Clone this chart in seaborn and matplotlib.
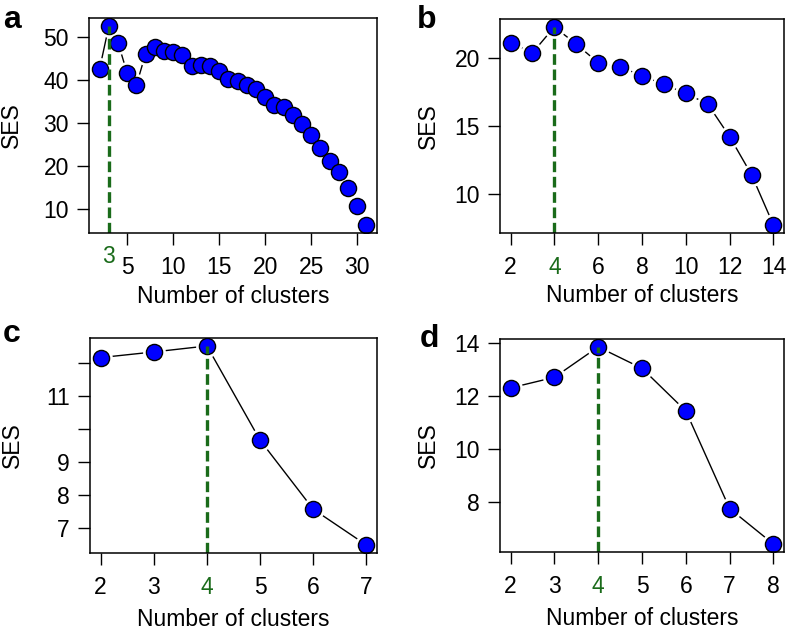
import matplotlib
matplotlib.use("Agg")
import matplotlib.pyplot as plt
import matplotlib.transforms as mtransforms
import seaborn as sns
import pandas as pd

### data
k_a = list(range(2, 32))
ses_a = [42.6, 52.5, 48.6, 41.5, 38.8, 46.1, 47.6, 46.6, 46.5, 45.7,
         43.2, 43.4, 43.2, 42.0, 40.3, 39.7, 38.9, 37.9, 35.9, 34.2,
         33.7, 31.8, 29.8, 27.1, 24.1, 21.2, 18.7, 15.0, 10.7, 6.3]
k_b = list(range(2, 15))
ses_b = [21.12, 20.36, 22.26, 21.0, 19.64, 19.34, 18.69, 18.05, 17.4,
         16.62, 14.23, 11.44, 7.76]
k_c = [2, 3, 4, 5, 6, 7]
ses_c = [12.15, 12.32, 12.5, 9.66, 7.58, 6.5]
k_d = [2, 3, 4, 5, 6, 7, 8]
ses_d = [12.31, 12.71, 13.86, 13.05, 11.44, 7.75, 6.41]

best = {"a": 3, "b": 4, "c": 4, "d": 4}
xticks = {"a": [5, 10, 15, 20, 25, 30], "b": [2, 4, 6, 8, 10, 12, 14],
          "c": [2, 3, 4, 5, 6, 7], "d": [2, 3, 4, 5, 6, 7, 8]}
yticks = {"a": [10, 20, 30, 40, 50], "b": [10, 15, 20],
          "c": [7, 8, 9, 10, 11, 12], "d": [8, 10, 12, 14]}
ytick_labels = {"a": ["10", "20", "30", "40", "50"], "b": ["10", "15", "20"],
                "c": ["7", "8", "9", "", "11", ""], "d": ["8", "10", "12", "14"]}

sns.set_style("ticks")
plt.rcParams["font.family"] = ["Liberation Sans", "DejaVu Sans"]
plt.rcParams["text.color"] = "black"
plt.rcParams["axes.labelcolor"] = "black"
plt.rcParams["xtick.labelcolor"] = "black"
plt.rcParams["ytick.labelcolor"] = "black"
FS = 16.5
GREEN = "#1a6b1a"

fig = plt.figure(figsize=(7.88, 6.33), dpi=100)
W, H = 788.0, 633.0
boxes = {"a": (89, 18, 377, 233), "b": (500, 19, 784, 233),
         "c": (90, 338, 377, 553), "d": (500, 339, 784, 552)}
letters = {"a": (3, 28), "b": (417, 28), "c": (3, 342), "d": (420, 347)}
series = {"a": (k_a, ses_a), "b": (k_b, ses_b), "c": (k_c, ses_c), "d": (k_d, ses_d)}

for key in "abcd":
    l, t, r, b = boxes[key]
    ax = fig.add_axes([l / W, 1 - b / H, (r - l) / W, (b - t) / H])
    xs, ys = series[key]
    df = pd.DataFrame({"k": xs, "ses": ys})

    # R-style 4% padding
    xpad = 0.04 * (max(xs) - min(xs))
    ypad = 0.04 * (max(ys) - min(ys))
    ax.set_xlim(min(xs) - xpad, max(xs) + xpad)
    ax.set_ylim(min(ys) - ypad, max(ys) + ypad)

    # type="b": line with gaps round the points
    sns.lineplot(data=df, x="k", y="ses", color="black", lw=1.0, ax=ax, zorder=1)
    sns.scatterplot(data=df, x="k", y="ses", color="white", s=270, linewidth=0,
                    ax=ax, zorder=2)
    sns.scatterplot(data=df, x="k", y="ses", color="#0000ff", edgecolor="black",
                    s=135, linewidth=1.0, ax=ax, zorder=3)

    kb = best[key]
    ax.vlines(kb, min(ys) - ypad, ys[xs.index(kb)], color=GREEN, lw=2.4,
              linestyles=(0, (3.2, 1.4)), zorder=4)

    ax.tick_params(axis="both", direction="out", length=8.5, width=1.0,
                   labelsize=FS, color="black", labelcolor="black")
    ax.tick_params(axis="x", pad=8)
    ax.tick_params(axis="y", pad=6)

    ax.set_xticks(xticks[key])
    ax.set_xticklabels([str(v) for v in xticks[key]])
    ax.set_yticks(yticks[key])
    ax.set_yticklabels(ytick_labels[key])
    for lab, v in zip(ax.get_xticklabels(), xticks[key]):
        lab.set_color(GREEN if v == kb else "black")
    for lab in ax.get_yticklabels():
        lab.set_color("black")
    if key == "a":
        trans = mtransforms.blended_transform_factory(ax.transData, ax.transAxes)
        ax.text(kb, -0.055, str(kb), color=GREEN, ha="center", va="top",
                fontsize=FS, transform=trans)

    for s in ax.spines.values():
        s.set_visible(True)
        s.set_linewidth(1.1)
        s.set_color("black")
        s.set_zorder(5)

    ax.set_xlabel("Number of clusters", fontsize=FS, color="black")
    ax.set_ylabel("SES", fontsize=FS, color="black")
    yl_px = 66.5 if key in "ac" else 60.5
    ax.yaxis.set_label_coords(-yl_px / (r - l), 0.5)
    xl = -0.24 if key in "ab" else -0.258
    ax.xaxis.set_label_coords(0.5, xl)

    lx, ly = letters[key]
    fig.text(lx / W, 1 - ly / H, key, fontsize=23, fontweight="bold",
             ha="left", va="baseline", color="black")

plt.savefig("out.png", dpi=100)
